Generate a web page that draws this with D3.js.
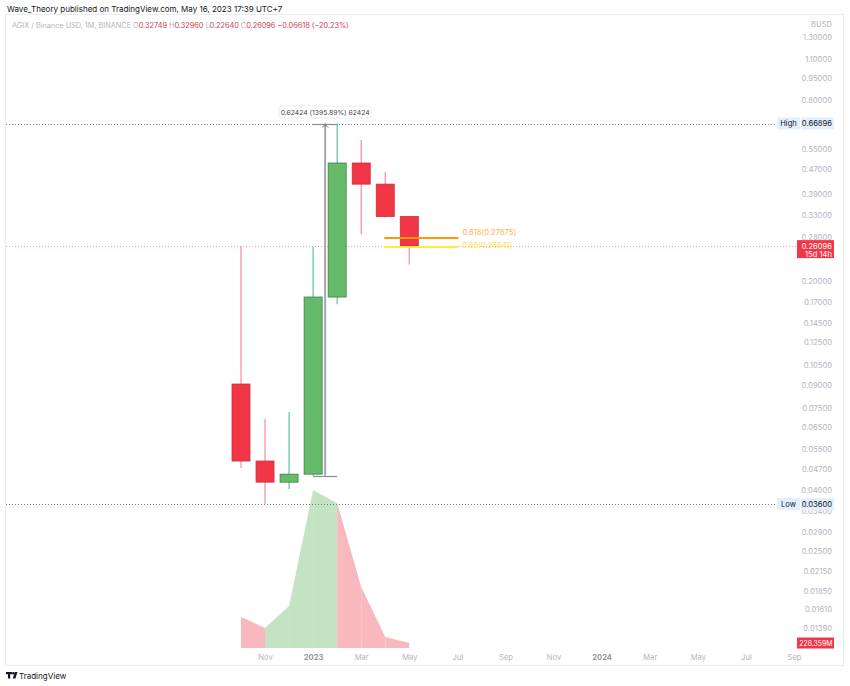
<!DOCTYPE html>
<html><head><meta charset="utf-8">
<script src="https://cdn.jsdelivr.net/npm/d3@7"></script>
<style>
html,body{margin:0;padding:0;background:#fff;}
svg{display:block;font-family:Inter,"Open Sans",Roboto,sans-serif;}
</style></head>
<body>
<svg id="c" width="850" height="686"></svg>
<script>
// ---- data ----
const months = ["Oct 2022","Nov 2022","Dec 2022","Jan 2023","Feb 2023","Mar 2023","Apr 2023","May 2023"];
const openP  = [0.0905, 0.0501, 0.0426, 0.0453, 0.1765, 0.494, 0.420, 0.32749];
const highP  = [0.261, 0.0692, 0.0730, 0.259, 0.66896, 0.589, 0.461, 0.32960];
const lowP   = [0.0475, 0.0360, 0.0404, 0.04472, 0.167, 0.286, 0.3245, 0.22640];
const closeP = [0.0501, 0.0426, 0.0453, 0.1765, 0.494, 0.420, 0.32749, 0.26096];
const volumeM = [1420, 915, 1920, 7220, 6620, 2790, 500, 228.359];
const priceTicks = [1.3, 1.1, 0.95, 0.8, 0.55, 0.47, 0.39, 0.33, 0.28, 0.2, 0.17, 0.145, 0.125, 0.105, 0.09, 0.075, 0.065, 0.055, 0.047, 0.04, 0.034, 0.029, 0.025, 0.0215, 0.0185, 0.0161, 0.0139];
const timeTickIdx = [1, 3, 5, 7, 9, 11, 13, 15, 17, 19, 21, 23];
const timeTickLabels = ["Nov","2023","Mar","May","Jul","Sep","Nov","2024","Mar","May","Jul","Sep"];
const highVal = 0.66896, lowVal = 0.036, lastVal = 0.26096;
const fibLevels = [{r:"0.618", v:0.27875}, {r:"0.65", v:0.25841}];
const rangeFrom = 0.04472, rangeTo = 0.66896;

const svg = d3.select("#c");
const x = d3.scaleLinear().domain([0, 23]).range([241, 794]);
const y = d3.scaleLog().domain([0.0139, 1.3]).range([628, 37]);
const yv = d3.scaleLinear().domain([0, 7220]).range([648, 490]);
const data = months.map((m,i)=>({m, i, o:openP[i], h:highP[i], l:lowP[i], c:closeP[i], v:volumeM[i]}));
const crisp = v => Math.round(v) + 0.5;

// frame
svg.append("rect").attr("x",5.5).attr("y",14.5).attr("width",838).attr("height",651)
  .attr("fill","none").attr("stroke","#e9ebf0").attr("stroke-width",1);

// header
svg.append("text").attr("x",7).attr("y",12).attr("font-size",8).attr("fill","#131722")
  .text("Wave_Theory published on TradingView.com, May 16, 2023 17:39 UTC+7");
const h2 = svg.append("text").attr("x",12).attr("y",28).attr("font-size",7.3).attr("fill","#b2b5be");
h2.append("tspan").text("AGIX / Binance USD, 1M, BINANCE ");
[["O","0.32749"],["H","0.32960"],["L","0.22640"],["C","0.26096"]].forEach(([k,v])=>{
  h2.append("tspan").attr("fill","#b2b5be").text(" "+k);
  h2.append("tspan").attr("fill","#c9434f").text(v);
});
h2.append("tspan").attr("fill","#c9434f").text(" −0.06618 (−20.23%)");

// volume area, segments colored by candle direction
for (let i=1;i<data.length;i++){
  const a=data[i-1], b=data[i];
  const up = b.c >= b.o;
  const area = d3.area().x(d=>x(d.i)).y0(yv(0)).y1(d=>yv(d.v));
  svg.append("path").attr("d", area([a,b])).attr("fill", up ? "#c3e3c2" : "#f9b8bd");
}

// High / Low dotted lines
svg.append("line").attr("x1",6).attr("x2",776).attr("y1",crisp(y(highVal))).attr("y2",crisp(y(highVal)))
  .attr("stroke","#787b86").attr("stroke-width",1).attr("stroke-dasharray","1,2");
svg.append("line").attr("x1",6).attr("x2",776).attr("y1",crisp(y(lowVal))).attr("y2",crisp(y(lowVal)))
  .attr("stroke","#787b86").attr("stroke-width",1).attr("stroke-dasharray","1,2");
// last price line
svg.append("line").attr("x1",6).attr("x2",797).attr("y1",crisp(y(lastVal))).attr("y2",crisp(y(lastVal)))
  .attr("stroke","#f7a3ab").attr("stroke-width",1).attr("stroke-dasharray","1,2");

// candles
const bw = 18;
const g = svg.append("g");
data.forEach(d=>{
  const up = d.c >= d.o;
  g.append("line").attr("x1",x(d.i)).attr("x2",x(d.i)).attr("y1",y(d.h)).attr("y2",y(d.l))
    .attr("stroke", up ? "#5cc2a6" : "#f78a95").attr("stroke-width",1.2);
  const top = y(Math.max(d.o,d.c)), bot = y(Math.min(d.o,d.c));
  g.append("rect").attr("x",x(d.i)-bw/2).attr("y",top).attr("width",bw).attr("height",Math.max(1,bot-top))
    .attr("fill", up ? "#66bb6a" : "#f23645")
    .attr("stroke", up ? "#3f7d4a" : "#c7303d").attr("stroke-width",0.8);
});

// fib levels
const fibColors = ["#ff9800","#ffeb3b"], fibText = ["#ffb04a","#f7df4d"];
fibLevels.forEach((f,k)=>{
  const fy = Math.round(y(f.v));
  svg.append("line").attr("x1",x(6)-1).attr("x2",x(9)+1).attr("y1",fy).attr("y2",fy)
    .attr("stroke",fibColors[k]).attr("stroke-width",2);
  svg.append("text").attr("x",x(9)+5).attr("y",y(f.v)-(k===0?3:-0.5)).attr("font-size",7.6)
    .attr("fill",fibText[k]).text(f.r+"("+f.v.toFixed(5)+")");
});

// price range tool
const rx = x(3.5);
svg.append("line").attr("x1",rx).attr("x2",rx).attr("y1",y(rangeTo)).attr("y2",y(rangeFrom))
  .attr("stroke","#a3a6ae").attr("stroke-width",2);
svg.append("line").attr("x1",x(3)-1).attr("x2",x(4)).attr("y1",crisp(y(rangeTo))).attr("y2",crisp(y(rangeTo)))
  .attr("stroke","#8a8d96").attr("stroke-width",1.2);
svg.append("line").attr("x1",x(3)).attr("x2",x(4)).attr("y1",crisp(y(rangeFrom))).attr("y2",crisp(y(rangeFrom)))
  .attr("stroke","#8a8d96").attr("stroke-width",1.2);
svg.append("path").attr("d",`M${rx-3},${y(rangeTo)+4}L${rx},${y(rangeTo)+1}L${rx+3},${y(rangeTo)+4}`)
  .attr("fill","none").attr("stroke","#6a6d78").attr("stroke-width",1);
svg.append("rect").attr("x",rx-46).attr("y",106).attr("width",92).attr("height",12).attr("rx",2)
  .attr("fill","#fff").attr("stroke","#eceef2").attr("stroke-width",1);
svg.append("text").attr("x",rx).attr("y",114.5).attr("text-anchor","middle").attr("font-size",6.8)
  .attr("fill","#434651")
  .text(`${(rangeTo-rangeFrom).toFixed(5)} (${((rangeTo-rangeFrom)/rangeFrom*100).toFixed(2)}%) ${Math.round((rangeTo-rangeFrom)*1e5)}`);

// price axis
const ax = svg.append("g").attr("transform","translate(800,0)")
  .call(d3.axisRight(y).tickValues(priceTicks).tickFormat(d=>d.toFixed(5)).tickSize(0));
ax.select(".domain").remove();
ax.selectAll("text").attr("x",32).attr("text-anchor","end").attr("font-size",7.6)
  .attr("fill","#b2b5be").attr("font-family","Inter,sans-serif");
svg.append("text").attr("x",832).attr("y",27).attr("text-anchor","end").attr("font-size",7.6)
  .attr("fill","#b2b5be").text("BUSD");

// High/Low labels
[["High",highVal],["Low",lowVal]].forEach(([t,v])=>{
  const yy = y(v);
  svg.append("rect").attr("x",777).attr("y",yy-6).attr("width",23).attr("height",12).attr("fill","#e3effd");
  svg.append("text").attr("x",788.5).attr("y",yy+2.7).attr("text-anchor","middle").attr("font-size",7.6)
    .attr("fill","#131722").text(t);
  svg.append("rect").attr("x",801).attr("y",yy-6).attr("width",33).attr("height",12).attr("fill","#e3effd");
  svg.append("text").attr("x",832).attr("y",yy+2.7).attr("text-anchor","end").attr("font-size",7.6)
    .attr("fill","#131722").text(v.toFixed(5));
});
// last price label
const ly = y(lastVal);
svg.append("rect").attr("x",797).attr("y",ly-6).attr("width",37).attr("height",18).attr("fill","#f23645");
svg.append("text").attr("x",832).attr("y",ly+2.7).attr("text-anchor","end").attr("font-size",7.6)
  .attr("fill","#fff").text(lastVal.toFixed(5));
svg.append("text").attr("x",832).attr("y",ly+10.7).attr("text-anchor","end").attr("font-size",7.6)
  .attr("fill","#fff").text("15d 14h");
// volume label
const vy = yv(volumeM[volumeM.length-1]);
svg.append("rect").attr("x",797).attr("y",vy-5.5).attr("width",37).attr("height",11).attr("fill","#f23645");
svg.append("text").attr("x",832.5).attr("y",vy+2.6).attr("text-anchor","end").attr("font-size",6.9)
  .attr("fill","#fff").text(volumeM[volumeM.length-1].toFixed(3)+"M");

// time axis
const tx = svg.append("g").attr("transform","translate(0,655)")
  .call(d3.axisBottom(x).tickValues(timeTickIdx).tickFormat((d,i)=>timeTickLabels[i]).tickSize(0));
tx.select(".domain").remove();
tx.selectAll("text").attr("font-size",7.6).attr("dy","0.2em").attr("font-family","Inter,sans-serif")
  .attr("fill",(d,i)=>/^\d{4}$/.test(timeTickLabels[i]) ? "#9598a1" : "#b2b5be")
  .attr("font-weight",(d,i)=>/^\d{4}$/.test(timeTickLabels[i]) ? "bold" : "normal");

// TradingView logo
const lg = svg.append("g").attr("transform","translate(6,672)").attr("fill","#131722");
lg.append("rect").attr("x",0).attr("y",0).attr("width",6).attr("height",2.2);
lg.append("rect").attr("x",2).attr("y",0).attr("width",2.2).attr("height",6.5);
lg.append("circle").attr("cx",7.3).attr("cy",1.2).attr("r",1.2);
lg.append("path").attr("d","M8.8,0 L11.5,0 L9.4,6.5 L6.8,6.5 Z");
svg.append("text").attr("x",19).attr("y",679).attr("font-size",8).attr("fill","#131722").text("TradingView");
</script>
</body></html>
